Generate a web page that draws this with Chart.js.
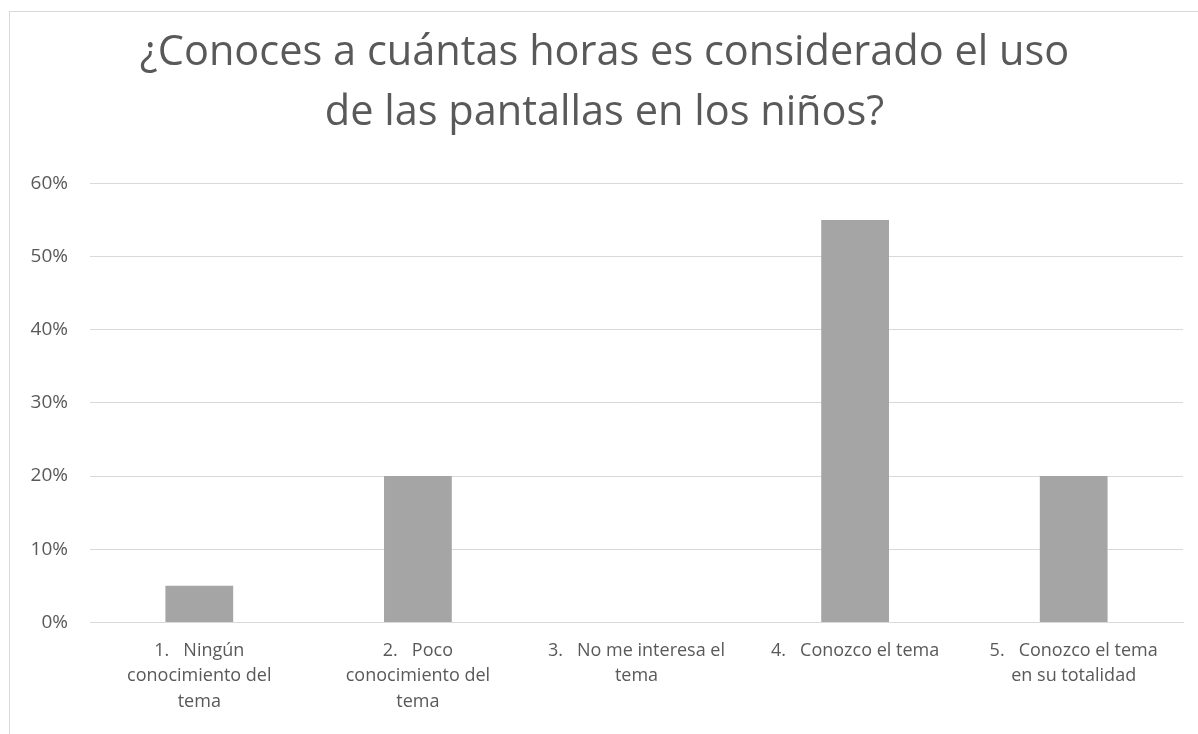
<!DOCTYPE html>
<html>
<head>
<meta charset="utf-8">
<script src="https://cdn.jsdelivr.net/npm/chart.js@4.4.0/dist/chart.umd.min.js"></script>
<style>
  html, body { margin: 0; padding: 0; background: #ffffff; }
  #frame {
    position: absolute; left: 9px; top: 11px; width: 1189px; height: 723px;
    border-left: 1px solid #d9d9d9; border-top: 1px solid #d9d9d9;
    box-sizing: border-box;
  }
  #wrap { position: absolute; left: 0; top: 0; width: 1198px; height: 734px; }
</style>
</head>
<body>
<div id="frame"></div>
<div id="wrap"><canvas id="chart"></canvas></div>
<script>
// chart data
const titleLines = ["¿Conoces a cuántas horas es considerado el uso", "de las pantallas en los niños?"];
const categories = [
    ["1.   Ningún", "conocimiento del", "tema"],
    ["2.   Poco", "conocimiento del", "tema"],
    ["3.   No me interesa el", "tema"],
    ["4.   Conozco el tema"],
    ["5.   Conozco el tema", "en su totalidad"]
];
const values = [0.05, 0.20, 0.00, 0.55, 0.20];
const yTicks = [0, 0.1, 0.2, 0.3, 0.4, 0.5, 0.6];

const textColor = "#595959";
const gridColor = "#d9d9d9";
const fontFamily = "'Open Sans', 'Noto Sans', sans-serif";

const config = {
    type: "bar",
    data: {
        labels: categories,
        datasets: [{
            data: values,
            backgroundColor: "#a5a5a5",
            borderWidth: 0,
            categoryPercentage: 1,
            barPercentage: 0.31
        }]
    },
    options: {
        responsive: true,
        maintainAspectRatio: false,
        animation: false,
        // left padding keeps the title centred on the frame, y axis fills the rest
        layout: { padding: { left: 26, right: 15, top: 0, bottom: 4 } },
        plugins: {
            legend: { display: false },
            tooltip: { enabled: false },
            title: {
                display: true,
                text: titleLines,
                color: textColor,
                font: { family: fontFamily, size: 41.5, weight: "normal", lineHeight: 1.45 },
                padding: { top: 23, bottom: 40 }
            }
        },
        scales: {
            x: {
                grid: { display: false, drawTicks: false },
                border: { display: true, color: gridColor, width: 1 },
                ticks: {
                    color: textColor,
                    font: { family: fontFamily, size: 18, lineHeight: 1.4 },
                    padding: 16,
                    autoSkip: false,
                    maxRotation: 0,
                    minRotation: 0
                }
            },
            y: {
                min: 0,
                max: 0.6,
                afterBuildTicks: axis => { axis.ticks = yTicks.map(v => ({ value: v })); },
                afterFit: axis => { axis.width = 64; },
                grid: { color: gridColor, lineWidth: 1, drawTicks: false },
                border: { display: false },
                ticks: {
                    color: textColor,
                    font: { family: fontFamily, size: 19 },
                    padding: 22,
                    callback: v => Math.round(v * 100) + "%"
                }
            }
        }
    }
};

new Chart(document.getElementById("chart"), config);
</script>
</body>
</html>
